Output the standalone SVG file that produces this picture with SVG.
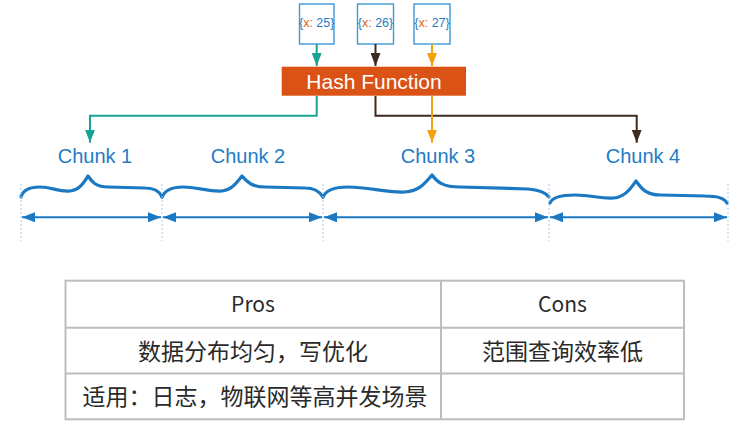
<svg xmlns="http://www.w3.org/2000/svg" width="745" height="425" viewBox="0 0 745 425">
<defs>
<style>
.inbox{fill:#fff;stroke:#3d9ad8;stroke-width:1.4}
.inp{font-family:"Liberation Sans",Arial,sans-serif;font-size:12.5px;fill:#1f7cc4;text-anchor:middle}
.xk{fill:#e0601a}
.hash{fill:#db5217}
.hasht{font-family:"Liberation Sans",Arial,sans-serif;font-size:21px;fill:#fff;text-anchor:middle}
.chunk{font-family:"Liberation Sans",Arial,sans-serif;font-size:20px;fill:#1e7cc4;text-anchor:middle}
.brace{fill:none;stroke:#1b78c2;stroke-width:3.2;stroke-linecap:round;stroke-linejoin:round}
.span{stroke:#1b78c2;stroke-width:2;marker-start:url(#bh);marker-end:url(#bh)}
.guide{stroke:#a8cdea;stroke-width:1;stroke-dasharray:2 2}
.c{fill:none;stroke-width:2}
.teal{stroke:#19a394}
.brown{stroke:#3e2a1e}
.orange{stroke:#f2a20f}
.tl{fill:none;stroke:#bdbdbd;stroke-width:2}
.tt{font-family:"Noto Sans CJK SC","Noto Sans",sans-serif;fill:#2a2a2a;text-anchor:middle}
.lat{font-size:21px}
.cjk{font-size:23px}
</style>
<marker id="ateal" markerUnits="userSpaceOnUse" markerWidth="13" markerHeight="10" refX="13" refY="5" orient="auto"><path d="M0,0 L13,5 L0,10 z" fill="#19a394"/></marker>
<marker id="abrown" markerUnits="userSpaceOnUse" markerWidth="13" markerHeight="10" refX="13" refY="5" orient="auto"><path d="M0,0 L13,5 L0,10 z" fill="#3e2a1e"/></marker>
<marker id="aorange" markerUnits="userSpaceOnUse" markerWidth="13" markerHeight="10" refX="13" refY="5" orient="auto"><path d="M0,0 L13,5 L0,10 z" fill="#f2a20f"/></marker>
<marker id="bh" markerUnits="userSpaceOnUse" markerWidth="13" markerHeight="10" refX="13" refY="5" orient="auto-start-reverse"><path d="M0,0 L13,5 L0,10 z" fill="#1b78c2"/></marker>
</defs>

<g id="input-25">
<rect class="inbox" x="299.5" y="4" width="34.5" height="40"/>
<text class="inp" x="316.7" y="26.5">{<tspan class="xk">x:</tspan> 25}</text>
</g>
<g id="input-26">
<rect class="inbox" x="357.5" y="4" width="36" height="40"/>
<text class="inp" x="375.5" y="26.5">{<tspan class="xk">x:</tspan> 26}</text>
</g>
<g id="input-27">
<rect class="inbox" x="414" y="4" width="36" height="40"/>
<text class="inp" x="432" y="26.5">{<tspan class="xk">x:</tspan> 27}</text>
</g>

<g id="hash-function">
<rect class="hash" x="281.7" y="66.7" width="184.3" height="29"/>
<text class="hasht" x="374" y="89">Hash Function</text>
</g>

<g id="chunk-1">
<text class="chunk" x="95" y="163.3">Chunk 1</text>
<path class="brace" d="M21,197 C23,190 30,187 40,187 C52,187 58,192 70,191 C80,190 84,182 88,176 C92,182 96,187 108,187 L145,188 C155,188 160,192 162,197"/>
</g>
<g id="chunk-2">
<text class="chunk" x="248" y="163.3">Chunk 2</text>
<path class="brace" d="M162,197 C165,190 172,187 183,187 C198,187 208,192 222,191 C232,190 237,182 242,176 C247,182 252,187 265,187 L305,188 C315,188 320,192 323,197"/>
</g>
<g id="chunk-3">
<text class="chunk" x="438" y="163.3">Chunk 3</text>
<path class="brace" d="M323,197 C326,190 334,187 348,187 C370,187 385,193 405,192 C420,191 426,182 432,175 C437,182 443,187 460,187 L528,189 C540,190 546,193 549,197"/>
</g>
<g id="chunk-4">
<text class="chunk" x="643" y="163.3">Chunk 4</text>
<path class="brace" d="M550,203 C552,198 560,195 575,195 C592,195 600,199 614,198 C625,197 631,188 636,181 C641,188 646,195 660,195 L705,196 C718,196 725,199 727,203"/>
</g>

<g id="guides">
<line class="guide" x1="21" y1="184" x2="21" y2="241"/>
<line class="guide" x1="162" y1="184" x2="162" y2="241"/>
<line class="guide" x1="323" y1="184" x2="323" y2="241"/>
<line class="guide" x1="549" y1="184" x2="549" y2="241"/>
<line class="guide" x1="728" y1="184" x2="728" y2="241"/>
</g>

<g id="connectors">
<line class="c teal" x1="316.7" y1="44" x2="316.7" y2="66" marker-end="url(#ateal)"/>
<line class="c brown" x1="375.5" y1="44" x2="375.5" y2="66" marker-end="url(#abrown)"/>
<line class="c orange" x1="432" y1="44" x2="432" y2="66" marker-end="url(#aorange)"/>
<path class="c teal" d="M316.7,96 V115.7 H90 V142.7" marker-end="url(#ateal)"/>
<path class="c brown" d="M375.5,96 V115.7 H636.7 V142.7" marker-end="url(#abrown)"/>
<path class="c orange" d="M432,96 V142.7" marker-end="url(#aorange)"/>
<line class="span" x1="22" y1="217.3" x2="161" y2="217.3"/>
<line class="span" x1="163" y1="217.3" x2="322" y2="217.3"/>
<line class="span" x1="324" y1="217.3" x2="548" y2="217.3"/>
<line class="span" x1="550" y1="217.3" x2="727" y2="217.3"/>
</g>

<g id="table">
<rect class="tl" x="65.5" y="280.7" width="618.5" height="138.6"/>
<line class="tl" x1="65.5" y1="327.7" x2="684" y2="327.7"/>
<line class="tl" x1="65.5" y1="373.5" x2="684" y2="373.5"/>
<line class="tl" x1="441" y1="280.7" x2="441" y2="419.3"/>
<text class="tt lat" x="253" y="311.7">Pros</text>
<text class="tt lat" x="562.5" y="311.7">Cons</text>
<text class="tt cjk" x="253" y="359.5">数据分布均匀，写优化</text>
<text class="tt cjk" x="562.5" y="359.5">范围查询效率低</text>
<text class="tt cjk" x="255" y="405">适用：日志，物联网等高并发场景</text>
</g>
</svg>
